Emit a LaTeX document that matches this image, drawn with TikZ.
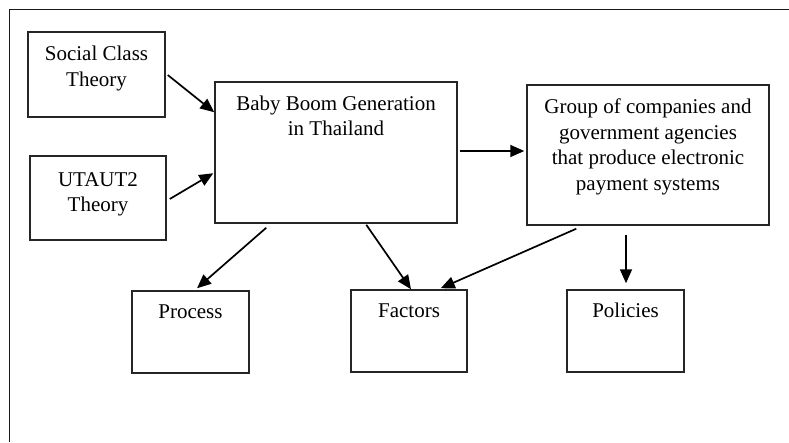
\documentclass[tikz,border=0pt]{standalone}
\usepackage{fontspec}
\setmainfont{Liberation Serif}
\usetikzlibrary{calc,arrows.meta}
\begin{document}
\begin{tikzpicture}[x=1pt,y=-1pt,
  box/.style={draw=black!85,line width=1.5pt,rectangle,inner sep=0pt},
  lbl/.style={anchor=north,inner sep=0pt,align=center,font=\fontsize{21}{25.5}\selectfont},
  conn/.style={line width=1.7pt,-{Triangle[length=14pt,width=12pt]}},
  frameline/.style={line width=1.8pt,draw=black!90}]
\useasboundingbox (0,0) rectangle (789,442);
\draw[frameline] (789,9.5) -- (9.5,9.5) -- (9.5,442);
% boxes
\node[box,minimum width=137pt,minimum height=85pt] (soc) at (96.5,74.5) {};
\node[box,minimum width=136pt,minimum height=84pt] (uta) at (98,198) {};
\node[box,minimum width=242pt,minimum height=141pt] (baby) at (336,152.5) {};
\node[box,minimum width=242pt,minimum height=140pt] (grp) at (648,155) {};
\node[box,minimum width=117pt,minimum height=82pt] (proc) at (190.5,332) {};
\node[box,minimum width=116pt,minimum height=82pt] (fac) at (409,331) {};
\node[box,minimum width=117pt,minimum height=82pt] (pol) at (625.5,331) {};
% texts
\node[lbl] (socT) at ($(soc.north)+(0,11.2)$) {\strut Social Class\\Theory};
\node[lbl] (utaT) at ($(uta.north)+(0,12.7)$) {\strut UTAUT2\\Theory};
\node[lbl] (babyT) at ($(baby.north)+(0,11)$) {\strut Baby Boom Generation\\in Thailand};
\node[lbl] (grpT) at ($(grp.north)+(0,11.4)$) {\strut Group of companies and\\government agencies\\that produce electronic\\payment systems};
\node[lbl] (procT) at ($(proc.north)+(0,10.3)$) {\strut Process};
\node[lbl] (facT) at ($(fac.north)+(0,10.3)$) {\strut Factors};
\node[lbl] (polT) at ($(pol.north)+(0,10.3)$) {\strut Policies};
% connectors
\coordinate (polTop) at ($(pol.north)+(0.5,-6)$);
\draw[conn] ($(soc.east)+(2,0.5)$) -- ($(baby.north west)+(0,31)$);
\draw[conn] ($(uta.east)+(3,1)$) -- ($(baby.north west)+(-1,92)$);
\draw[conn] ($(baby.east)+(2,-1.5)$) -- ($(grp.west)+(-2,-4)$);
\draw[conn] ($(baby.south west)+(52,4)$) -- ($(proc.north)+(6.5,-2)$);
\draw[conn] ($(baby.south west)+(152,1)$) -- ($(fac.north)+(2,0)$);
\draw[conn] ($(grp.south west)+(50,3)$) -- ($(fac.north east)+(-27,-1)$);
\draw[conn] ($(polTop |- grp.south)+(0,9)$) -- (polTop);
\end{tikzpicture}
\end{document}
